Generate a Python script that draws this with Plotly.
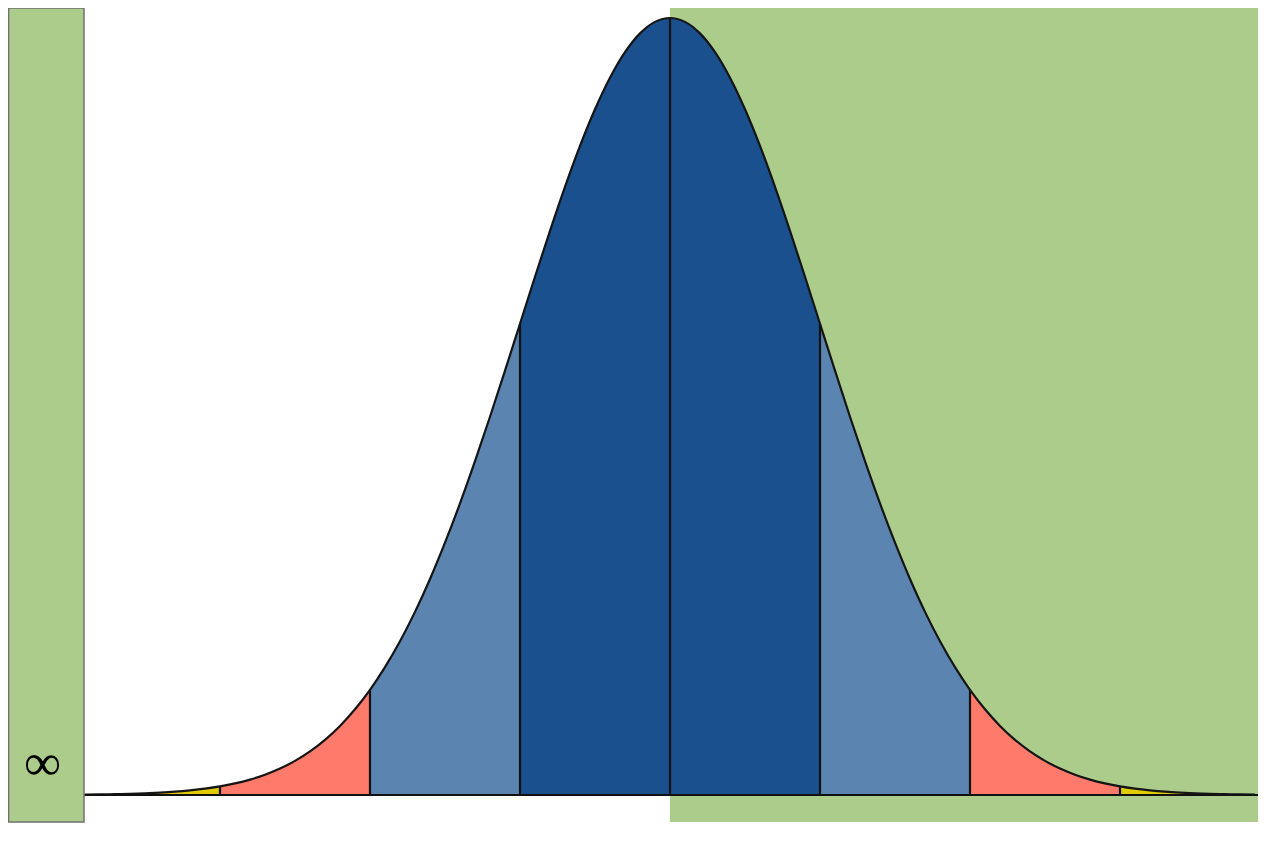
import plotly.graph_objects as go

# curve heights (peak = 1), every 0.1 sigma
z = [-3.9, -3.8, -3.7, -3.6, -3.5, -3.4, -3.3, -3.2, -3.1, -3.0,
     -2.9, -2.8, -2.7, -2.6, -2.5, -2.4, -2.3, -2.2, -2.1, -2.0,
     -1.9, -1.8, -1.7, -1.6, -1.5, -1.4, -1.3, -1.2, -1.1, -1.0,
     -0.9, -0.8, -0.7, -0.6, -0.5, -0.4, -0.3, -0.2, -0.1, 0.0,
     0.1, 0.2, 0.3, 0.4, 0.5, 0.6, 0.7, 0.8, 0.9, 1.0,
     1.1, 1.2, 1.3, 1.4, 1.5, 1.6, 1.7, 1.8, 1.9, 2.0,
     2.1, 2.2, 2.3, 2.4, 2.5, 2.6, 2.7, 2.8, 2.9, 3.0,
     3.1, 3.2, 3.3, 3.4, 3.5, 3.6, 3.7, 3.8, 3.9]
h = [0.0005, 0.0007, 0.0011, 0.0015, 0.0022, 0.0031, 0.0043, 0.0060, 0.0082, 0.0111,
     0.0149, 0.0198, 0.0261, 0.0340, 0.0439, 0.0561, 0.0710, 0.0889, 0.1103, 0.1353,
     0.1645, 0.1979, 0.2357, 0.2780, 0.3247, 0.3753, 0.4296, 0.4868, 0.5461, 0.6065,
     0.6670, 0.7261, 0.7827, 0.8353, 0.8825, 0.9231, 0.9560, 0.9802, 0.9950, 1.0000,
     0.9950, 0.9802, 0.9560, 0.9231, 0.8825, 0.8353, 0.7827, 0.7261, 0.6670, 0.6065,
     0.5461, 0.4868, 0.4296, 0.3753, 0.3247, 0.2780, 0.2357, 0.1979, 0.1645, 0.1353,
     0.1103, 0.0889, 0.0710, 0.0561, 0.0439, 0.0340, 0.0261, 0.0198, 0.0149, 0.0111,
     0.0082, 0.0060, 0.0043, 0.0031, 0.0022, 0.0015, 0.0011, 0.0007, 0.0005]

# bands: (from, to, colour)
bands = [(-3.9, -3.0, "#e0cc00"), (-3.0, -2.0, "#fe7a6b"), (-2.0, -1.0, "#5b84b0"),
         (-1.0, 1.0, "#1a508e"), (1.0, 2.0, "#5b84b0"), (2.0, 3.0, "#fe7a6b"),
         (3.0, 3.9, "#e0cc00")]
dividers = [-3.0, -2.0, -1.0, 0.0, 1.0, 2.0, 3.0]
side_label = "∞"

# the page sits 8px in from the window corner, so everything is laid out 8px up/left
W, H = 1272, 842
x_lo, x_hi = -662 / 150, 610 / 150
y_lo, y_hi = -55 / 777, 787 / 777
x_end_l, x_end_r = -586 / 150, 588 / 150

fig = go.Figure()

for a, b, col in bands:
    idx = [i for i, v in enumerate(z) if a - 1e-9 <= v <= b + 1e-9]
    fig.add_trace(go.Scatter(x=[z[i] for i in idx], y=[h[i] for i in idx], mode="lines",
                             fill="tozeroy", fillcolor=col,
                             line=dict(width=0, color=col, shape="spline", simplify=False),
                             hoverinfo="skip", showlegend=False))

for d in dividers:
    fig.add_trace(go.Scatter(x=[d, d], y=[0, h[z.index(d)]], mode="lines",
                             line=dict(color="#111111", width=2.2),
                             hoverinfo="skip", showlegend=False))

fig.add_trace(go.Scatter(x=z, y=h, mode="lines",
                         line=dict(color="#151515", width=2.2, shape="spline", simplify=False),
                         hoverinfo="skip", showlegend=False))

fig.add_trace(go.Scatter(x=[x_end_l, x_end_r], y=[0, 0], mode="lines",
                         line=dict(color="#111111", width=2.2),
                         hoverinfo="skip", showlegend=False))

# green panels
fig.add_shape(type="rect", xref="paper", yref="paper", layer="below",
              x0=662 / W, x1=1250 / W, y0=1 - 814 / H, y1=1,
              fillcolor="#abcc8a", line=dict(width=0))
fig.add_shape(type="rect", xref="paper", yref="paper", layer="above",
              x0=0.6 / W, x1=76 / W, y0=1 - 814 / H, y1=1.0,
              fillcolor="#abcc8a", line=dict(color="#707070", width=1.5))
fig.add_annotation(x=34 / W, y=1 - 754.5 / H, xref="paper", yref="paper",
                   xanchor="center", yanchor="middle", text=side_label, showarrow=False,
                   font=dict(size=52, color="#000000", family="Liberation Serif"))

fig.update_layout(width=W, height=H, margin=dict(l=0, r=0, t=0, b=0),
                  paper_bgcolor="white", plot_bgcolor="rgba(0,0,0,0)",
                  xaxis=dict(range=[x_lo, x_hi], visible=False, fixedrange=True),
                  yaxis=dict(range=[y_lo, y_hi], visible=False, fixedrange=True))

fig.write_html("out.html")
